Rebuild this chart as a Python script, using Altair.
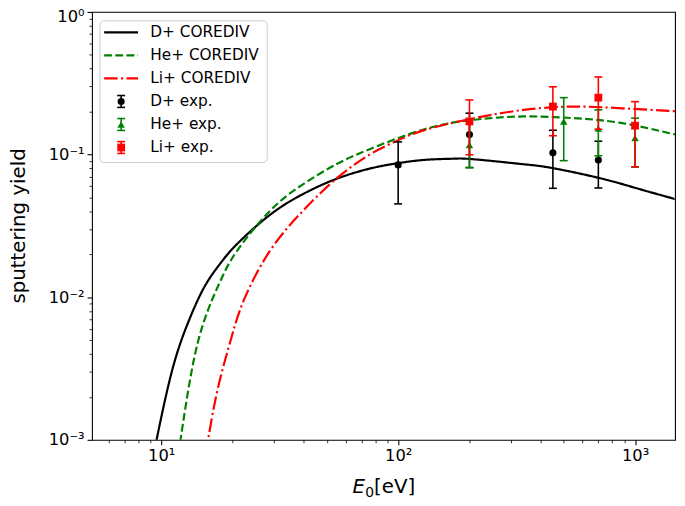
import altair as alt
import pandas as pd

# ---------------- data ----------------
curve_labels = ["D+ COREDIV", "He+ COREDIV", "Li+ COREDIV"]
exp_labels = ["D+ exp.", "He+ exp.", "Li+ exp."]
all_labels = curve_labels + exp_labels
colors = ["#000000", "#008000", "#ff0000", "#000000", "#008000", "#ff0000"]

d_E = [9.3, 9.59, 11.07, 13.0, 15.25, 17.88, 21.0, 28.9, 39.8, 54.8, 75.4, 97.5, 130, 170, 210, 339, 452, 708, 1039, 1386, 1470]
d_Y = [0.0008, 0.00103, 0.00299, 0.00668, 0.0119, 0.0175, 0.0238, 0.038, 0.053, 0.0675, 0.0795, 0.0865, 0.0918, 0.0935, 0.0926, 0.0855, 0.0802, 0.0684, 0.0574, 0.0502, 0.049]

he_E = [11.8, 12.12, 13.41, 15.25, 17.88, 21.0, 28.9, 39.8, 54.8, 75.4, 130, 210, 339, 548, 885, 1386, 1470]
he_Y = [0.0008, 0.00106, 0.00299, 0.0070, 0.0133, 0.0214, 0.0406, 0.0621, 0.0855, 0.1087, 0.151, 0.1754, 0.185, 0.18, 0.166, 0.1416, 0.139]

li_E = [15.35, 15.85, 17.33, 19.7, 22.4, 28.9, 39.8, 54.8, 75.4, 97.5, 130, 210, 339, 548, 885, 1386, 1470]
li_Y = [0.0008, 0.00106, 0.00229, 0.00509, 0.00968, 0.0214, 0.0406, 0.0678, 0.0994, 0.1237, 0.149, 0.18, 0.2058, 0.217, 0.211, 0.2025, 0.201]

dexp_E = [100, 200, 450, 700]
dexp_Y = [0.0846, 0.138, 0.103, 0.0916]
dexp_lo = [0.0451, 0.081, 0.058, 0.0583]
dexp_hi = [0.1227, 0.195, 0.148, 0.124]

heexp_E = [200, 500, 700, 1000]
heexp_Y = [0.1165, 0.1706, 0.152, 0.1307]
heexp_lo = [0.081, 0.0906, 0.098, 0.0817]
heexp_hi = [0.177, 0.2506, 0.2058, 0.18]

liexp_E = [200, 450, 700, 1000]
liexp_Y = [0.1706, 0.217, 0.2505, 0.1594]
liexp_lo = [0.0997, 0.1355, 0.1505, 0.082]
liexp_hi = [0.2415, 0.2985, 0.350, 0.235]

x_major = [10, 100, 1000]
x_minor = [6, 7, 8, 9, 20, 30, 40, 50, 60, 70, 80, 90, 200, 300, 400, 500, 600, 700, 800, 900]
y_major = [0.001, 0.01, 0.1, 1]
y_minor = [m * 10.0 ** k for k in (-3, -2, -1) for m in range(2, 10)]

# ---------------- tables ----------------
curves = pd.concat([
    pd.DataFrame({"E": d_E, "Y": d_Y, "label": curve_labels[0]}),
    pd.DataFrame({"E": he_E, "Y": he_Y, "label": curve_labels[1]}),
    pd.DataFrame({"E": li_E, "Y": li_Y, "label": curve_labels[2]}),
], ignore_index=True)

exp = pd.concat([
    pd.DataFrame({"E": dexp_E, "Y": dexp_Y, "lo": dexp_lo, "hi": dexp_hi, "label": exp_labels[0]}),
    pd.DataFrame({"E": heexp_E, "Y": heexp_Y, "lo": heexp_lo, "hi": heexp_hi, "label": exp_labels[1]}),
    pd.DataFrame({"E": liexp_E, "Y": liexp_Y, "lo": liexp_lo, "hi": liexp_hi, "label": exp_labels[2]}),
], ignore_index=True)

leg = pd.DataFrame({"label": all_labels, "row": list(range(6))})
one = pd.DataFrame({"a": [0]})

FONT = "DejaVu Sans"
W, H = 590, 433

xscale = alt.Scale(type="log", domain=[5.1, 1475], nice=False)
yscale = alt.Scale(type="log", domain=[0.001, 1], nice=False)
color_scale = alt.Scale(domain=all_labels, range=colors)
dash_scale = alt.Scale(domain=curve_labels, range=[[1, 0], [7.9, 3.4], [13.7, 3.4, 2.1, 3.4]])
shape_scale = alt.Scale(domain=exp_labels, range=["circle", "triangle-up", "square"])
size_scale = alt.Scale(domain=exp_labels, range=[52, 62, 50])
col = alt.Color("label:N", scale=color_scale, legend=None)
shp = alt.Shape("label:N", scale=shape_scale, legend=None)
siz = alt.Size("label:N", scale=size_scale, legend=None)

x_lab = "datum.value < 50 ? '10\u00b9' : datum.value < 500 ? '10\u00b2' : '10\u00b3'"
y_lab = ("datum.value > 0.5 ? '10\u2070' : datum.value > 0.05 ? '10\u207b\u00b9' : "
         "datum.value > 0.005 ? '10\u207b\u00b2' : '10\u207b\u00b3'")

major_x = alt.Axis(values=x_major, labelExpr=x_lab, tickSize=5, tickWidth=1.1, tickColor="black",
                   labelFontSize=16.5, labelFont=FONT, labelColor="black", labelPadding=3,
                   title=None, domain=False, grid=False, orient="bottom", labelFlush=False,
                   labelOverlap=False)
major_y = alt.Axis(values=y_major, labelExpr=y_lab, tickSize=5, tickWidth=1.1, tickColor="black",
                   labelFontSize=16.5, labelFont=FONT, labelColor="black", labelPadding=3,
                   title=None, domain=False, grid=False, orient="left", labelFlush=False,
                   labelOverlap=False, labelBaseline="middle",
                   labelOffset={"condition": {"test": "datum.value > 0.5", "value": 5}, "value": 0})
minor_x = alt.Axis(values=x_minor, labels=False, tickSize=3, tickWidth=0.8, tickColor="black",
                   title=None, domain=False, grid=False, orient="bottom")
minor_y = alt.Axis(values=y_minor, labels=False, tickSize=3, tickWidth=0.8, tickColor="black",
                   title=None, domain=False, grid=False, orient="left")

layers = []

# invisible layer carrying the minor ticks
layers.append(alt.Chart(curves).mark_point(opacity=0).encode(
    x=alt.X("E:Q", scale=xscale, axis=minor_x),
    y=alt.Y("Y:Q", scale=yscale, axis=minor_y)))

# model curves
layers.append(alt.Chart(curves).mark_line(strokeWidth=2.2, clip=True, interpolate="natural").encode(
    x=alt.X("E:Q", scale=xscale, axis=major_x),
    y=alt.Y("Y:Q", scale=yscale, axis=major_y),
    color=col,
    strokeDash=alt.StrokeDash("label:N", scale=dash_scale, legend=None),
    order=alt.Order("E:Q")))

# experimental points with error bars, one series after another
for lab in exp_labels:
    src = alt.Chart(exp).transform_filter(alt.datum.label == lab)
    xx = alt.X("E:Q", scale=xscale, axis=None)
    layers.append(src.mark_rule(strokeWidth=1.6).encode(
        x=xx, y=alt.Y("lo:Q", scale=yscale, axis=None), y2="hi:Q", color=col))
    for f in ("lo", "hi"):
        layers.append(src.mark_rule(strokeWidth=1.6, xOffset=-4, x2Offset=4).encode(
            x=xx, x2=alt.X2("E:Q"), y=alt.Y(f + ":Q", scale=yscale, axis=None), color=col))
    layers.append(src.mark_point(filled=True, opacity=1, strokeWidth=0).encode(
        x=xx, y=alt.Y("Y:Q", scale=yscale, axis=None), color=col, shape=shp, size=siz))

# legend
legbase = alt.Chart(leg).transform_calculate(
    py="20.7 + 23.3 * datum.row", top="20.7 + 23.3 * datum.row - 6", bot="20.7 + 23.3 * datum.row + 6")
layers.append(alt.Chart(one).mark_rect(fill="white", fillOpacity=0.8, stroke="#cccccc", strokeWidth=1,
                                       cornerRadius=4).encode(
    x=alt.value(8), x2=alt.value(177.3), y=alt.value(9), y2=alt.value(152.4)))
layers.append(legbase.mark_text(align="left", baseline="middle", fontSize=15.5, font=FONT,
                                color="black").encode(
    x=alt.value(59), y=alt.Y("py:Q", scale=None), text="label:N"))
layers.append(legbase.transform_filter("datum.row < 3").mark_rule(strokeWidth=2.2).encode(
    x=alt.value(12.3), x2=alt.value(46.6), y=alt.Y("py:Q", scale=None), color=col,
    strokeDash=alt.StrokeDash("label:N", scale=dash_scale, legend=None)))
lb = legbase.transform_filter("datum.row >= 3")
layers.append(lb.mark_rule(strokeWidth=1.6).encode(
    x=alt.value(29.5), y=alt.Y("top:Q", scale=None), y2="bot:Q", color=col))
for f in ("top", "bot"):
    layers.append(lb.mark_rule(strokeWidth=1.6).encode(
        x=alt.value(25.5), x2=alt.value(33.5), y=alt.Y(f + ":Q", scale=None), color=col))
layers.append(lb.mark_point(filled=True, opacity=1, strokeWidth=0).encode(
    x=alt.value(29.5), y=alt.Y("py:Q", scale=None), color=col, shape=shp, size=siz))

# axis titles
layers.append(alt.Chart(one).mark_text(angle=270, fontSize=20, font=FONT, align="center",
                                       baseline="middle", color="black").encode(
    x=alt.value(-74), y=alt.value(H / 2), text=alt.value("sputtering yield")))
layers.append(alt.Chart(one).mark_text(fontSize=20, font=FONT, fontStyle="italic", align="left",
                                       baseline="alphabetic", color="black").encode(
    x=alt.value(263.5), y=alt.value(487), text=alt.value("E")))
layers.append(alt.Chart(one).mark_text(fontSize=14, font=FONT, align="left",
                                       baseline="alphabetic", color="black").encode(
    x=alt.value(276.6), y=alt.value(491), text=alt.value("0")))
layers.append(alt.Chart(one).mark_text(fontSize=20, font=FONT, align="left",
                                       baseline="alphabetic", color="black").encode(
    x=alt.value(285.5), y=alt.value(487), text=alt.value("[eV]")))

chart = alt.layer(*layers).resolve_axis(x="independent", y="independent").properties(
    width=W, height=H,
    autosize=alt.AutoSizeParams(type="none"),
    padding={"left": 85, "top": 1, "right": 2, "bottom": 63},
    background="white",
).configure_view(stroke="black", strokeWidth=1.1)

chart.save("out.html", embed_options={"renderer": "svg", "actions": False})
